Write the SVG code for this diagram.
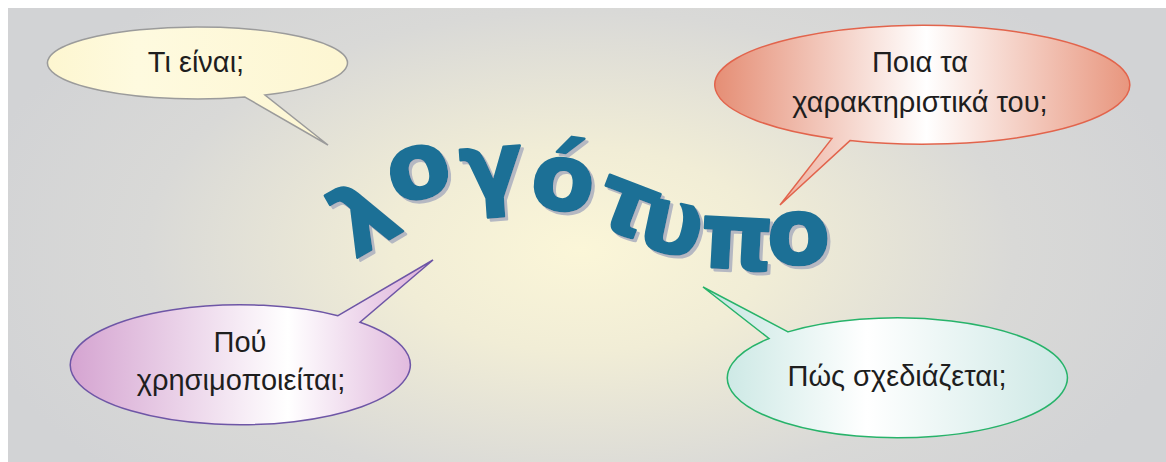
<svg xmlns="http://www.w3.org/2000/svg" width="1166" height="462" viewBox="0 0 1166 462">
  <defs>
    <radialGradient id="bg" gradientUnits="userSpaceOnUse" cx="580" cy="250" r="620" gradientTransform="translate(580 250) scale(1 0.55) translate(-580 -250)">
      <stop offset="0" stop-color="#fbf6d8"/>
      <stop offset="0.3" stop-color="#f1edd6"/>
      <stop offset="0.7" stop-color="#d9d9d7"/>
      <stop offset="1" stop-color="#d2d3d5"/>
    </radialGradient>
    <linearGradient id="gYellow" x1="0" y1="0" x2="1" y2="0">
      <stop offset="0" stop-color="#fdf6d0"/>
      <stop offset="0.3" stop-color="#fefadf"/>
      <stop offset="1" stop-color="#fdf6d2"/>
    </linearGradient>
    <linearGradient id="gSalmon" x1="0" y1="0" x2="1" y2="0">
      <stop offset="0" stop-color="#e58e75"/>
      <stop offset="0.51" stop-color="#ffffff"/>
      <stop offset="1" stop-color="#e8967e"/>
    </linearGradient>
    <linearGradient id="gPurple" x1="0" y1="0" x2="1" y2="0">
      <stop offset="0" stop-color="#d5a4d1"/>
      <stop offset="0.6" stop-color="#ffffff"/>
      <stop offset="1" stop-color="#dcaed8"/>
    </linearGradient>
    <linearGradient id="gGreen" x1="0" y1="0" x2="1" y2="0">
      <stop offset="0" stop-color="#c5e5e1"/>
      <stop offset="0.45" stop-color="#ffffff"/>
      <stop offset="1" stop-color="#cde8e5"/>
    </linearGradient>
    <filter id="shadow" x="-10%" y="-10%" width="120%" height="130%">
      <feOffset in="SourceAlpha" dx="3" dy="3" result="off"/>
      <feFlood flood-color="#b5b8c2"/>
      <feComposite in2="off" operator="in" result="sh"/>
      <feMerge><feMergeNode in="sh"/><feMergeNode in="SourceGraphic"/></feMerge>
    </filter>
  </defs>
  <style>
    .lbl { font-family: "Liberation Sans", "DejaVu Sans", sans-serif; font-size: 29px; fill: #1e1e1e; text-anchor: middle; }
    .logo { font-family: "DejaVu Sans", "Liberation Sans", sans-serif; font-weight: bold; font-size: 92px; fill: #1b7096; stroke: #1b7096; stroke-width: 2.5; stroke-linejoin: round; }
    .bub { stroke-width: 1.5; }
  </style>
  <rect x="0" y="0" width="1166" height="462" fill="#ffffff"/>
  <rect x="8" y="8" width="1158" height="454" fill="url(#bg)"/>

  <g id="logo" filter="url(#shadow)">
    <text class="logo" x="355 395 462 528 590 636 699 767" y="259 205 200 205 221 246 266.5 264" rotate="-30 -15 -4 8 21 12 3 0">λογότυπο</text>
  </g>

  <g id="connectors"></g>

  <g id="bubble-what">
    <path class="bub" d="M245,97.1 L328,145 L265,95.1 A150 36 0 1 0 245,97.1 Z" fill="url(#gYellow)" stroke="#9b9b9b"/>
    <text class="lbl" x="196" y="72">Τι είναι;</text>
  </g>

  <g id="bubble-features">
    <path class="bub" d="M850,140.6 L780,205 L832,138.4 A207.5 59.5 0 1 1 850,140.6 Z" fill="url(#gSalmon)" stroke="#e2644c"/>
    <text class="lbl" x="920" y="72">Ποια τα</text>
    <text class="lbl" x="920" y="112">χαρακτηριστικά του;</text>
  </g>

  <g id="bubble-where">
    <path class="bub" d="M338,315.7 L433,260 L360,322.2 A170 60 0 1 1 338,315.7 Z" fill="url(#gPurple)" stroke="#6e56a6"/>
    <text class="lbl" x="240" y="352">Πού</text>
    <text class="lbl" x="241" y="390">χρησιμοποιείται;</text>
  </g>

  <g id="bubble-how">
    <path class="bub" d="M788,331.9 L703,287 L769,338.5 A170 60 0 1 0 788,331.9 Z" fill="url(#gGreen)" stroke="#27b36a"/>
    <text class="lbl" x="897" y="386">Πώς σχεδιάζεται;</text>
  </g>
</svg>
